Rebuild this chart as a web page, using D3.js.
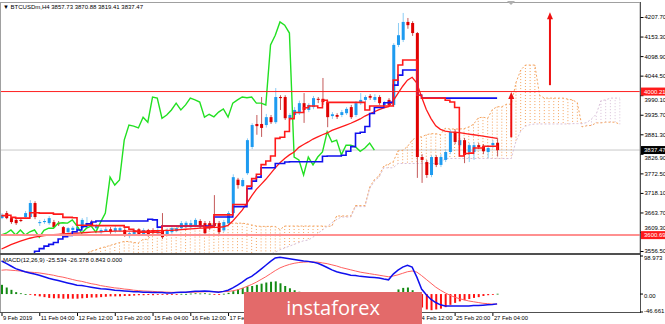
<!DOCTYPE html>
<html>
<head>
<meta charset="utf-8">
<script src="https://cdn.jsdelivr.net/npm/d3@7"></script>
<style>
body { margin: 0; background: #fff; }
svg text { font-family: "Liberation Sans", "DejaVu Sans", sans-serif; }
</style>
</head>
<body>
<div id="chart"></div>
<script>
// BTCUSDm H4 bars, oldest first (bar index 0..105)
var opens  = [3648,3662,3648,3643,3643,3651,3651,3690,3634,3637,3634,3637,3634,3623,3609,3615,3615,3620,3624,3637,3620,3609,3612,3617,3612,3613,3615,3598,3601,3617,3603,3615,3615,3606,3615,3603,3609,3612,3620,3623,3623,3626,3640,3634,3634,3634,3634,3614,3634,3662,3755,3737,3773,3846,3910,3910,3907,3929,3915,3985,3985,3926,3935,3940,3968,3949,3957,3980,3980,3971,3932,3935,3935,3940,3957,3935,3968,3977,3988,3977,3985,3963,3977,3963,4130,4144,4194,4191,4163,3818,3804,3768,3818,3796,3810,3832,3888,3851,3865,3832,3832,3851,3848,3832,3851,3857.73];
var highs  = [3662,3668,3651,3646,3648,3668,3698,3695,3643,3646,3654,3643,3640,3626,3623,3626,3628,3648,3651,3643,3631,3620,3623,3623,3626,3624,3620,3610,3618,3620,3620,3618,3620,3620,3662,3620,3626,3626,3640,3640,3643,3648,3645,3640,3640,3712,3640,3643,3668,3770,3760,3760,3870,3912,3935,3985,3938,3935,4010,3990,3990,3940,3957,3975,3996,3968,3988,3985,4038,3977,3943,3940,3949,3957,3963,3974,3996,3990,3993,3993,3990,3974,3982,4135,4191,4219,4205,4196,4166,3826,3810,3823,3823,3826,3840,3893,3895,3871,3871,3857,3860,3857,3854,3851,3865,3870.88];
var lows   = [3645,3645,3632,3629,3637,3648,3648,3645,3626,3632,3629,3620,3626,3603,3604,3611,3612,3617,3620,3623,3615,3604,3609,3604,3606,3609,3596,3592,3598,3598,3598,3596,3604,3601,3590,3598,3604,3609,3617,3620,3620,3623,3620,3601,3615,3620,3604,3609,3629,3656,3730,3735,3768,3840,3880,3874,3900,3910,3910,3949,3921,3918,3929,3935,3913,3943,3951,3968,3963,3901,3924,3924,3929,3935,3924,3929,3963,3971,3977,3971,3963,3957,3957,3957,4124,4138,4175,4155,3760,3746,3760,3762,3790,3790,3804,3826,3854,3846,3801,3804,3810,3840,3826,3815,3843,3819.41];
var closes = [3657,3648,3637,3634,3640,3662,3690,3651,3637,3640,3648,3623,3631,3606,3620,3621,3623,3643,3634,3629,3626,3615,3617,3609,3620,3620,3601,3606,3615,3601,3615,3601,3610,3615,3595,3614,3620,3620,3634,3635,3634,3643,3626,3606,3620,3626,3609,3637,3662,3762,3740,3754,3865,3907,3904,3899,3929,3915,3985,3982,3926,3935,3949,3968,3949,3963,3982,3977,3971,3929,3937,3930,3943,3952,3929,3968,3977,3985,3983,3985,3968,3968,3963,4130,4157,4194,4185,4163,3818,3810,3768,3818,3796,3818,3832,3888,3860,3865,3824,3851,3851,3846,3834,3843,3857,3837.47];

// Ichimoku lines and the red moving average, per bar
var tenkan = [3655,3656,3650,3648,3648,3648,3663,3663,3662,3662,3662,3659,3659,3650,3650,3649,3628,3628,3628,3627,3627,3627,3627,3627,3627,3627,3623,3617,3611,3609,3609,3609,3609,3608,3626,3626,3626,3626,3626,3626,3626,3626,3626,3623,3625,3657,3657,3657,3657,3686,3686,3686,3737,3758,3770,3797,3807,3821,3870,3873,3889,3925,3942,3942,3955,3960,3960,3955,3976,3970,3970,3970,3970,3970,3970,3970,3970,3949,3960,3960,3960,3960,3960,4032,4074,4088,4088,4088,3990,3982,3982,3982,3982,3982,3976,3971,3956,3821,3828,3829,3843,3843,3848,3848,3848,3836];
var kijun  = [3510,3510,3510,3510,3530,3530,3548,3556,3563,3570,3575,3580,3590,3596,3600,3610,3615,3625,3632,3637,3640,3640,3640,3640,3640,3640,3640,3640,3640,3640,3640,3645,3643,3623,3626,3626,3626,3626,3626,3626,3626,3626,3626,3626,3626,3651,3651,3651,3651,3680,3680,3680,3730,3751,3762,3788,3788,3788,3800,3800,3804,3805,3805,3805,3805,3805,3805,3805,3820,3821,3821,3821,3823,3834,3847,3884,3887,3903,3939,3956,3956,3969,3970,4018,4046,4060,4060,4060,3990,3982,3982,3982,3982,3982,3982,3982,3982,3982,3982,3982,3982,3982,3982,3982,3982,3982];
var maLine = [3562,3568,3574,3579,3584,3588,3592,3595,3597,3599,3601,3602,3603,3604,3605,3606,3606,3607,3608,3609,3610,3610,3611,3611,3612,3612,3612,3612,3612,3612,3612,3612,3613,3613,3613,3614,3614,3615,3616,3617,3618,3619,3620,3620,3621,3622,3622,3624,3628,3640,3655,3670,3690,3710,3728,3742,3756,3772,3788,3802,3814,3824,3832,3845,3853,3860,3868,3874,3880,3885,3892,3897,3902,3907,3912,3918,3924,3932,3938,3944,3950,3955,3958,3975,3995,4015,4032,4040,4024,3985,3950,3925,3905,3895,3890,3888,3887,3886,3884,3882,3880,3878,3876,3874,3872,3870];

// Senkou spans, bar index 0..131 (26 bars ahead of the last bar)
var spanA = [3440,3445,3450,3455,3460,3465,3470,3480,3490,3500,3510,3515,3520,3525,3530,3535,3540,3545,3550,3556,3560,3565,3568,3572,3576,3580,3583,3583,3580,3579,3589,3589,3606,3610,3613,3616,3619,3620,3625,3623,3625,3630,3622,3627,3630,3632,3633,3634,3634,3634,3634,3634,3632,3629,3626,3625,3625,3625,3625,3616,3626,3626,3626,3626,3626,3626,3626,3626,3626,3625,3626,3654,3654,3654,3654,3683,3683,3683,3734,3755,3766,3793,3798,3805,3835,3837,3847,3865,3874,3874,3880,3883,3883,3880,3898,3896,3896,3896,3897,3902,3909,3927,3929,3926,3950,3958,3958,3965,3965,4025,4060,4074,4074,4074,3990,3982,3982,3982,3982,3982,3979,3977,3969,3902,3905,3906,3913,3913,3915,3915,3915,3909];
var spanB = [3500,3500,3500,3500,3500,3500,3500,3500,3500,3500,3500,3500,3500,3500,3500,3500,3500,3500,3500,3500,3500,3500,3500,3500,3500,3500,3500,3500,3500,3500,3500,3500,3500,3500,3500,3500,3500,3500,3500,3500,3500,3500,3500,3500,3500,3500,3500,3500,3500,3500,3500,3500,3510,3520,3530,3540,3545,3548,3553,3560,3565,3570,3575,3580,3585,3587,3595,3605,3615,3625,3635,3644,3651,3651,3651,3680,3680,3680,3730,3751,3762,3788,3788,3788,3800,3800,3800,3800,3800,3800,3800,3800,3800,3800,3814,3814,3814,3814,3814,3814,3814,3814,3814,3814,3814,3814,3814,3814,3814,3862,3890,3904,3908,3910,3910,3910,3910,3910,3910,3910,3910,3911,3911,3911,3914,3924,3937,3975,3977,3982,3982,3982];

// MACD(12,26,9): main and signal line per bar
var macdMain = [86,80,73,66,62,58,55,52,49,45,41,38,35,32,29,26,23,22,20,18,16,14,13,12,10,9,8,7,6,6,5,5,4,4,4,3,3,4,5,5,6,7,7,8,7,6,5,7,10,16,23,31,40,46,55,65,75,85,94,96,94,92,90,88,86,85,83,80,75,69,63,58,55,52,49,48,46,45,44,43,42,39,37,52,62,70,75,70,44,13,-2,-14,-22,-28,-31,-31,-31,-31,-31,-31,-30,-30,-29,-28,-27,-25.534];
var macdSignal = [62,63,62,61,60,58,57,56,55,53,51,49,46,44,41,38,35,33,30,27,25,22,20,18,16,15,13,12,10,9,8,7.5,7,6,5.5,5,4.5,4.3,4.4,4.6,4.8,5,5.5,6,6.2,6.2,6,6.2,6.8,8.5,11,15,20,25,31,38,45,53,61,68,73,77,80,82,83,83.5,83.5,83,81,79,76,73,69,66,63,60,57,55,53,51,49,47,45,47,50,54,58,60,57,48,38,28,18,10,3,-3,-8,-12,-15,-18,-20,-22,-24,-25,-26,-26.378];

// axis labels
var priceTicks = [4207.70,4153.30,4098.90,4044.50,3990.10,3935.70,3881.30,3826.90,3772.50,3718.10,3663.70,3609.30,3556.50];
var timeIdx = [0,8,16,24,32,40,48,56,64,72,80,88,96,104];
var timeLabels = ["9 Feb 2019","11 Feb 04:00","12 Feb 12:00","13 Feb 20:00","15 Feb 04:00","16 Feb 12:00","17 Feb 20:00","19 Feb 04:00","20 Feb 12:00","21 Feb 20:00","23 Feb 04:00","24 Feb 12:00","25 Feb 20:00","27 Feb 04:00"];

// levels and drawn arrows
var resistance = 4000.21, support = 3600.69, lastPrice = 3837.47;
var arrowIdx = [108, 116.2], arrowFrom = [3873, 4018], arrowTo = [3999, 4221];

var width = 665, height = 324;
var plotRight = 640;
var mainTop = 2, mainBottom = 253, macdTop = 255, macdBottom = 312;
// watermark box
var logoX = 244, logoW = 178;

var svg = d3.select("#chart").append("svg")
    .attr("width", width)
    .attr("height", height);

var x = d3.scaleLinear().domain([0, 105]).range([1.5, 497.1]);
var y = d3.scaleLinear().domain([3556.5, 4207.7]).range([251, 17]);
var ym = d3.scaleLinear().domain([-46.661, 98.973]).range([312, 256]);

var defs = svg.append("defs");
defs.append("clipPath").attr("id", "clipMain").append("rect")
    .attr("x", 0).attr("y", mainTop).attr("width", plotRight).attr("height", mainBottom - mainTop);
defs.append("clipPath").attr("id", "clipMacd").append("rect")
    .attr("x", 0).attr("y", macdTop).attr("width", plotRight).attr("height", macdBottom - macdTop);

var main = svg.append("g").attr("clip-path", "url(#clipMain)");
var macdG = svg.append("g").attr("clip-path", "url(#clipMacd)");

// current price line
main.append("line")
    .attr("x1", 0).attr("x2", plotRight)
    .attr("y1", y(lastPrice)).attr("y2", y(lastPrice))
    .attr("stroke", "#c8c8c8").attr("stroke-width", 1);

// Kumo cloud: dotted vertical hatch between the spans
var cloud = main.append("g");
spanA.forEach(function(a, i) {
    var b = spanB[i];
    cloud.append("line")
        .attr("x1", x(i)).attr("x2", x(i))
        .attr("y1", y(a)).attr("y2", y(b))
        .attr("stroke", a >= b ? "#f4a460" : "#d8bfd8")
        .attr("stroke-width", 1)
        .attr("stroke-dasharray", "1,2");
});
var line = d3.line().x(function(d, i) { return x(i); }).y(function(d) { return y(d); });
main.append("path").datum(spanA).attr("d", line)
    .attr("fill", "none").attr("stroke", "#f4a460").attr("stroke-dasharray", "2,2");
main.append("path").datum(spanB).attr("d", line)
    .attr("fill", "none").attr("stroke", "#d8bfd8").attr("stroke-dasharray", "2,2");

// candles
var candles = main.append("g");
closes.forEach(function(c, i) {
    var o = opens[i], up = c >= o;
    candles.append("line")
        .attr("x1", x(i) + 0.5).attr("x2", x(i) + 0.5)
        .attr("y1", y(highs[i])).attr("y2", y(lows[i]))
        .attr("stroke", up ? "#8ccdf5" : "#c45a5a").attr("stroke-width", 1);
    candles.append("rect")
        .attr("x", x(i) - 1)
        .attr("y", y(Math.max(o, c)))
        .attr("width", 3)
        .attr("height", Math.max(1, Math.abs(y(o) - y(c))))
        .attr("fill", up ? "#1e9bf0" : "#e00000");
});

// chikou span: close plotted 26 bars back
var chikou = d3.range(0, closes.length - 26).map(function(i) { return closes[i + 26]; });
main.append("path").datum(chikou).attr("d", line)
    .attr("fill", "none").attr("stroke", "#22e022").attr("stroke-width", 1.4);
main.append("path").datum(maLine).attr("d", line)
    .attr("fill", "none").attr("stroke", "#ff1a1a").attr("stroke-width", 1.3);
main.append("path").datum(kijun).attr("d", line.curve(d3.curveStepAfter))
    .attr("fill", "none").attr("stroke", "#1010ee").attr("stroke-width", 1.6);
main.append("path").datum(tenkan).attr("d", line)
    .attr("fill", "none").attr("stroke", "#ff1a1a").attr("stroke-width", 1.6);
line.curve(d3.curveLinear);

// horizontal levels
main.append("line")
    .attr("x1", 0).attr("x2", plotRight)
    .attr("y1", y(resistance)).attr("y2", y(resistance))
    .attr("stroke", "#ff2020").attr("stroke-width", 1);
main.append("line")
    .attr("x1", 0).attr("x2", plotRight)
    .attr("y1", y(support)).attr("y2", y(support))
    .attr("stroke", "#ff9090").attr("stroke-width", 2);

// arrows
arrowIdx.forEach(function(a, k) {
    var ax = x(a), y0 = y(arrowFrom[k]), y1 = y(arrowTo[k]);
    main.append("line")
        .attr("x1", ax).attr("x2", ax).attr("y1", y0).attr("y2", y1 + 6)
        .attr("stroke", "#ee1010").attr("stroke-width", 2);
    main.append("path")
        .attr("d", "M" + (ax - 3) + "," + (y1 + 7) + "L" + ax + "," + y1 + "L" + (ax + 3) + "," + (y1 + 7) + "Z")
        .attr("fill", "#ee1010");
});

// MACD histogram and lines
macdMain.forEach(function(m, i) {
    var h = m - macdSignal[i];
    macdG.append("rect")
        .attr("x", x(i) - 0.5)
        .attr("y", Math.min(ym(0), ym(h)))
        .attr("width", 2)
        .attr("height", Math.max(0.8, Math.abs(ym(h) - ym(0))))
        .attr("fill", h >= 0 ? "#138a13" : "#ff1010");
});
var mline = d3.line().x(function(d, i) { return x(i); }).y(function(d) { return ym(d); });
macdG.append("path").datum(macdSignal).attr("d", mline)
    .attr("fill", "none").attr("stroke", "#ff6060").attr("stroke-width", 1);
macdG.append("path").datum(macdMain).attr("d", mline)
    .attr("fill", "none").attr("stroke", "#1010ee").attr("stroke-width", 1.5);

// frames
var frame = svg.append("g").attr("fill", "none");
frame.append("rect").attr("x", 0.5).attr("y", mainTop + 0.5).attr("width", plotRight - 0.5).attr("height", mainBottom - mainTop)
    .attr("stroke", "#a0a0a0");
frame.append("line").attr("x1", 0).attr("x2", plotRight).attr("y1", 254).attr("y2", 254)
    .attr("stroke", "#505050").attr("stroke-width", 2);
frame.append("line").attr("x1", 0).attr("x2", plotRight + 1).attr("y1", macdBottom + 0.5).attr("y2", macdBottom + 0.5)
    .attr("stroke", "#505050");
frame.append("line").attr("x1", 0.5).attr("x2", 0.5).attr("y1", macdTop).attr("y2", macdBottom)
    .attr("stroke", "#a0a0a0");
frame.append("line").attr("x1", plotRight + 0.5).attr("x2", plotRight + 0.5).attr("y1", mainTop).attr("y2", macdBottom + 1)
    .attr("stroke", "#505050");

// shift marker
svg.append("path").attr("d", "M507,1L515,1L511,5Z").attr("fill", "#b0b0b0");

// right price axis; labels that would sit under a price tag are nudged clear of it
var tags = [resistance, lastPrice, support];
var yAxis = svg.append("g")
    .attr("transform", "translate(" + (plotRight + 0.5) + ",0)")
    .call(d3.axisRight(y).tickValues(priceTicks).tickSize(3).tickPadding(1).tickFormat(d3.format(".2f")));
yAxis.select(".domain").remove();
yAxis.selectAll("line").attr("stroke", "#000");
yAxis.selectAll("text").attr("font-size", 6).attr("fill", "#000")
    .attr("y", function(d) {
        var shift = 0;
        tags.forEach(function(t) {
            var dy = y(d) - y(t);
            if (Math.abs(dy) < 8) shift = (dy >= 0 ? 8 : -8) - dy;
        });
        return shift;
    });

function priceTag(v, bg, label) {
    svg.append("rect").attr("x", plotRight + 1).attr("y", y(v) - 4).attr("width", 24).attr("height", 8).attr("fill", bg);
    svg.append("text").attr("x", plotRight + 4).attr("y", y(v) + 2.2)
        .attr("font-size", 6).attr("fill", "#fff").text(label);
}
priceTag(resistance, "#ff1a1a", "4000.21");
priceTag(lastPrice, "#000", "3837.47");
priceTag(support, "#ff1a1a", "3600.69");

// MACD scale labels
var macdLabels = [[98.973, "98.973"], [0, "0.00"], [-46.661, "-46.661"]];
macdLabels.forEach(function(d) {
    svg.append("text").attr("x", plotRight + 4).attr("y", Math.min(ym(d[0]) + 4, 313))
        .attr("font-size", 6).attr("fill", "#000").text(d[1]);
    svg.append("line").attr("x1", plotRight).attr("x2", plotRight + 3)
        .attr("y1", ym(d[0])).attr("y2", ym(d[0])).attr("stroke", "#000");
});

// time axis (labels that sit fully under the watermark are not drawn)
var xAxis = svg.append("g")
    .attr("transform", "translate(0," + (macdBottom + 1) + ")")
    .call(d3.axisBottom(x).tickValues(timeIdx).tickSize(3).tickPadding(1)
        .tickFormat(function(d, i) { return timeLabels[i]; }));
xAxis.select(".domain").remove();
xAxis.selectAll("line").attr("stroke", "#000");
xAxis.selectAll("text").attr("font-size", 5.8).attr("fill", "#000")
    .attr("text-anchor", "start").attr("x", 1).attr("dy", "0.6em");
xAxis.selectAll(".tick").filter(function(d) { return x(d) > logoX + 4 && x(d) + 30 < logoX + logoW; }).remove();

// titles
svg.append("text").attr("x", 3).attr("y", 9).attr("font-size", 6).attr("fill", "#000")
    .text("\u25BC  BTCUSDm,H4  3857.73 3870.88 3819.41 3837.47");
svg.append("text").attr("x", 3).attr("y", 262).attr("font-size", 6).attr("fill", "#000")
    .text("MACD(12,26,9) -25.534 -26.378 0.843 0.000");

// watermark
svg.append("rect").attr("x", logoX).attr("y", 292).attr("width", logoW).attr("height", 32).attr("fill", "#e36a6a");
svg.append("text").attr("x", logoX + logoW / 2).attr("y", 315).attr("text-anchor", "middle")
    .attr("font-size", 20).attr("fill", "#fff").style("font-family", "'Open Sans', sans-serif")
    .text("instaforex");
</script>
</body>
</html>
